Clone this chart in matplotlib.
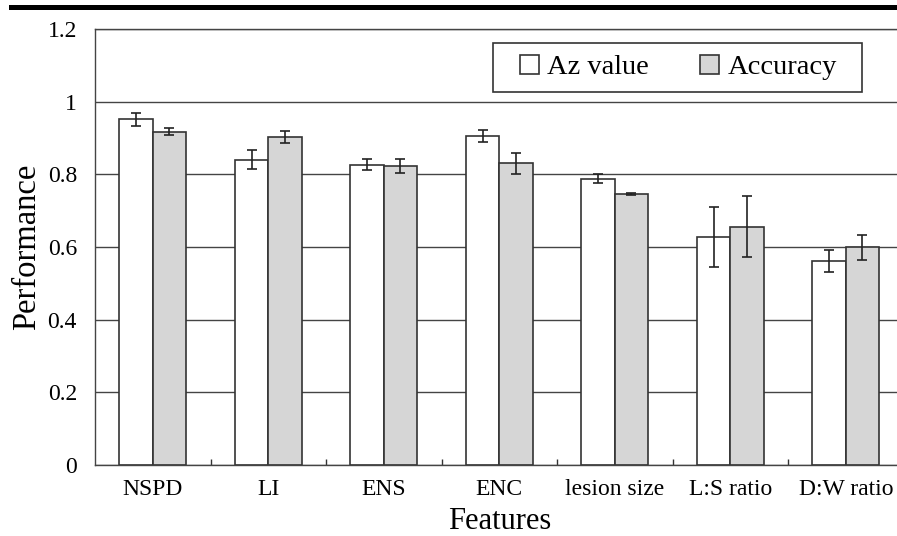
import matplotlib
matplotlib.use("Agg")
import matplotlib.pyplot as plt
import numpy as np
from matplotlib.patches import Rectangle

categories = ["NSPD", "LI", "ENS", "ENC", "lesion size", "L:S ratio", "D:W ratio"]
az_value = [0.951, 0.840, 0.827, 0.906, 0.788, 0.628, 0.562]
az_err = [0.019, 0.026, 0.014, 0.016, 0.012, 0.083, 0.030]
accuracy = [0.917, 0.902, 0.822, 0.830, 0.746, 0.656, 0.599]
acc_err = [0.010, 0.016, 0.019, 0.030, 0.004, 0.083, 0.035]
yticks = [0, 0.2, 0.4, 0.6, 0.8, 1.0, 1.2]
ytick_labels = ["0", "0.2", "0.4", "0.6", "0.8", "1", "1.2"]

plt.rcParams['font.family'] = ['Liberation Serif', 'DejaVu Serif']

W, H = 897, 536
fig = plt.figure(figsize=(W/100, H/100), dpi=100)
ax = fig.add_axes([95/W, (H-465)/H, 808.5/W, 436/H])

x = np.arange(len(categories))
bw = 0.29
edge = "#333333"
grid_c = "#444444"
ax.set_axisbelow(True)
ax.yaxis.grid(True, color=grid_c, linewidth=1.0)
ax.bar(x - bw/2, az_value, bw, color="white", edgecolor=edge, linewidth=1.2,
       label="Az value", zorder=2)
ax.bar(x + bw/2, accuracy, bw, color="#d6d6d6", edgecolor=edge, linewidth=1.2,
       label="Accuracy", zorder=2)
ax.errorbar(x - bw/2, az_value, yerr=az_err, fmt="none", ecolor="#222222",
            elinewidth=1.2, capsize=3.6, capthick=1.2, zorder=3)
ax.errorbar(x + bw/2, accuracy, yerr=acc_err, fmt="none", ecolor="#222222",
            elinewidth=1.2, capsize=3.6, capthick=1.2, zorder=3)

ax.set_xlim(-0.5, len(categories) - 0.5)
ax.set_ylim(0, 1.2)
ax.set_yticks(yticks)
ax.set_yticklabels(ytick_labels)
ax.set_xticks(x)
ax.set_xticklabels(categories)
ax.set_xticks(x[:-1] + 0.5, minor=True)
ax.tick_params(axis="x", which="major", length=0, pad=10, labelsize=17)
ax.tick_params(axis="x", which="minor", length=4, direction="in", color=edge, width=1)
ax.tick_params(axis="y", length=0, pad=13, labelsize=17)
for s in ["right"]:
    ax.spines[s].set_visible(False)
for s in ["left", "bottom", "top"]:
    ax.spines[s].set_color(grid_c)
    ax.spines[s].set_linewidth(1.0)

ax.set_xlabel("Features", fontsize=22, labelpad=5)
ax.set_ylabel("Performance", fontsize=23.5, labelpad=4)

# legend frame box (pixel layout of the reference)
bx0, bx1, by0, by1 = 493, 862, 43, 92
def ax_coords(px, py):
    return (px - 95) / 808.5, (465 - py) / 436
lx0, ly1 = ax_coords(bx0, by0)
lx1, ly0 = ax_coords(bx1, by1)
ax.add_patch(Rectangle((lx0, ly0), lx1 - lx0, ly1 - ly0, transform=ax.transAxes,
                       facecolor="white", edgecolor="#333333", linewidth=1.2,
                       zorder=4, clip_on=False))
leg = ax.legend(loc="center", bbox_to_anchor=((lx0 + lx1) / 2 + 0.001, (ly0 + ly1) / 2),
                ncol=2, fontsize=20.5, frameon=False,
                handlelength=0.68, handleheight=0.68,
                handletextpad=0.28, columnspacing=1.8, borderpad=0.2,
                borderaxespad=0)
leg.set_zorder(5)

fig.add_artist(Rectangle((9/W, (H-10)/H), (W-9)/W, 5/H, transform=fig.transFigure,
                         color="black", lw=0))

fig.savefig("out.png", dpi=100)
